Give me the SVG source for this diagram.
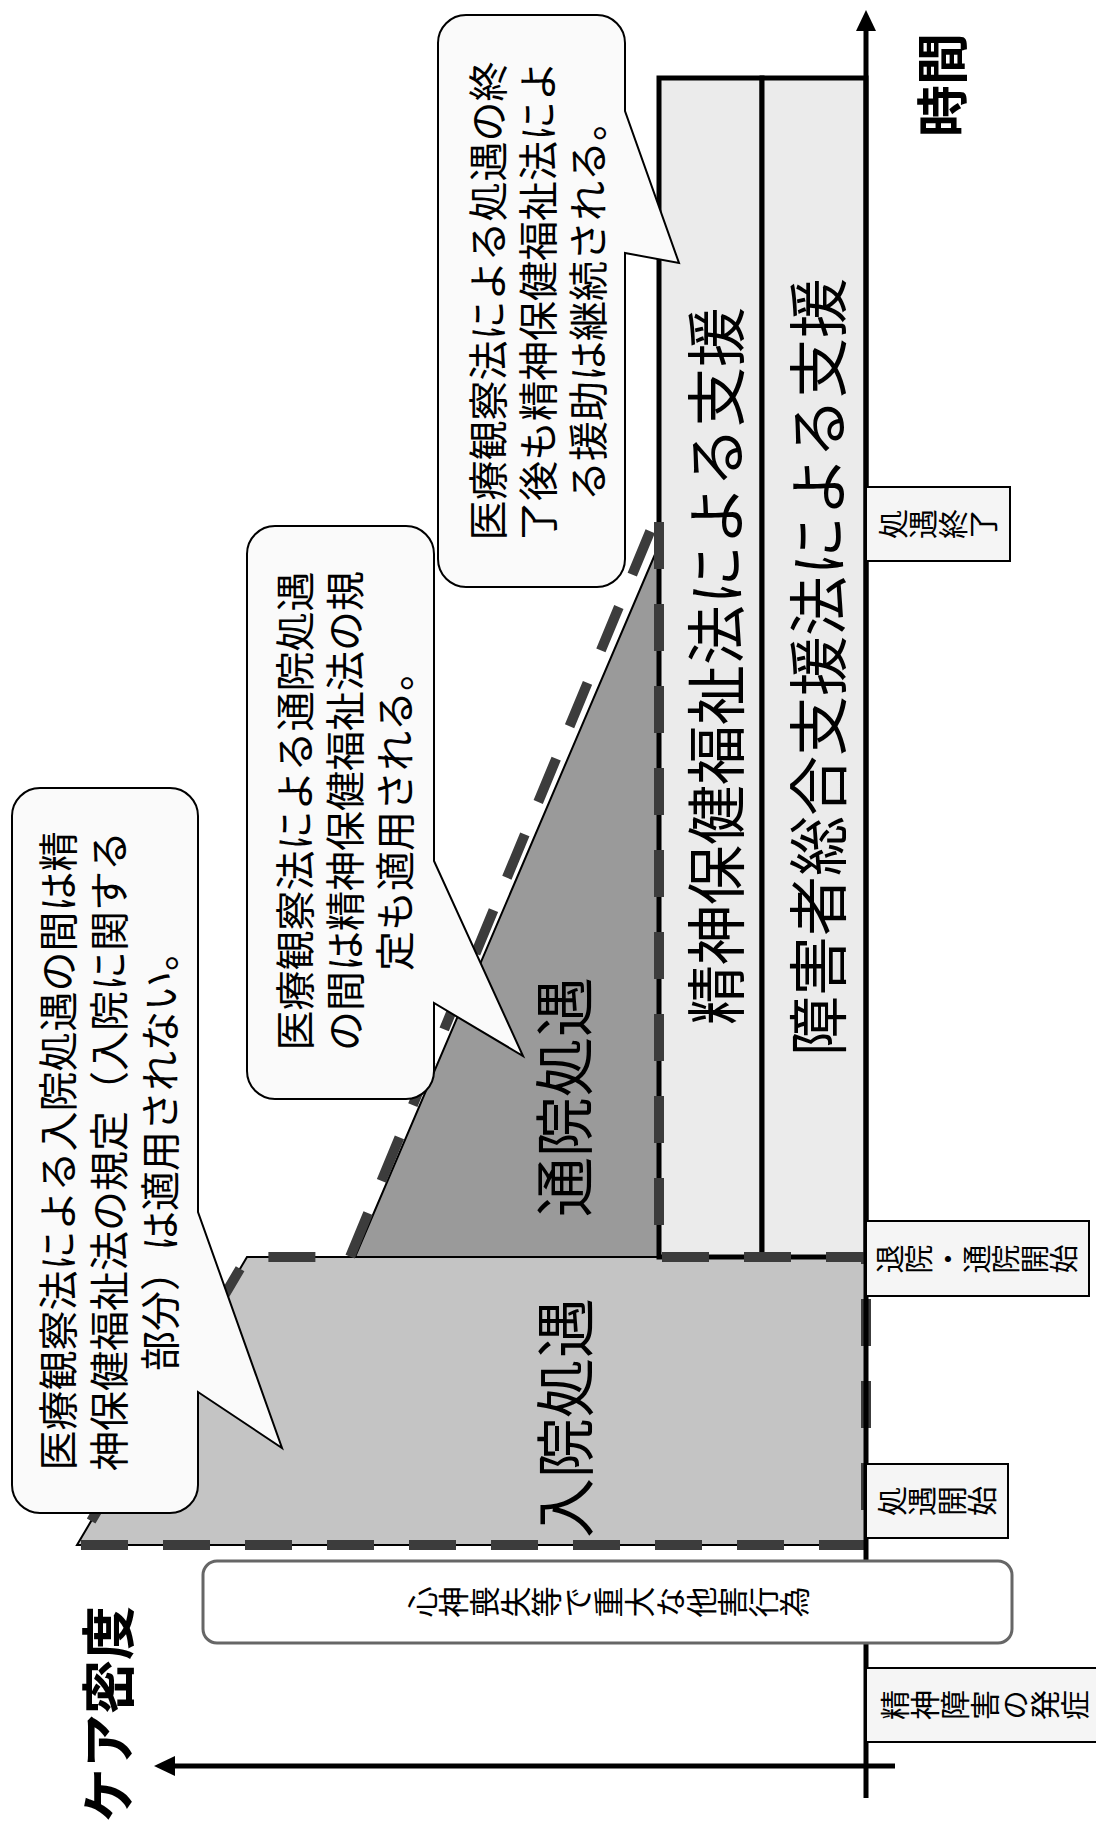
<svg xmlns="http://www.w3.org/2000/svg" width="1096" height="1830" viewBox="0 0 1096 1830">
<defs>
<style>
text{font-family:"Noto Sans CJK JP","Noto Sans CJK SC",sans-serif;fill:#000;}
.rt{text-anchor:middle;dominant-baseline:central;}
.bub{font-size:40px;}
.big{font-size:60px;}
.axl{font-size:54px;font-weight:bold;}
.vt{writing-mode:vertical-rl;text-anchor:middle;font-size:30px;}
.bubble{fill:#fafafa;stroke:#000;stroke-width:2;}
.lbl{fill:#f5f5f5;stroke:#000;stroke-width:2;}
.law{fill:#ebebeb;stroke:#000;stroke-width:5;}
</style>
</defs>

<g id="inpatient-area">
<polygon points="77,1545 866,1545 866,1257 247,1257" fill="#c4c4c4" stroke="#000" stroke-width="2"/>
</g>
<g id="outpatient-area">
<polygon points="659,1257 659,545 355,1257" fill="#9a9a9a" stroke="#000" stroke-width="2"/>
</g>

<g id="law-mental-health">
<rect class="law" x="659" y="78" width="103" height="1179"/>
</g>
<g id="law-disability">
<rect class="law" x="762" y="78" width="104" height="1179"/>
</g>

<g id="care-outline">
<path d="M77,1545 H866 V1257 H659 V510 L350,1257 H247 Z" fill="none" stroke="#3c3c3c" stroke-width="10" stroke-dasharray="47 35" stroke-dashoffset="-4"/>
</g>

<g id="connectors">
<line x1="866" y1="1798" x2="866" y2="28" stroke="#000" stroke-width="5"/>
<polygon points="866,10 856,31 876,31" fill="#000"/>
<line x1="895" y1="1766" x2="173" y2="1766" stroke="#000" stroke-width="5"/>
<polygon points="154,1766 175,1756 175,1776" fill="#000"/>
</g>

<g id="label-end">
<rect class="lbl" x="866" y="487" width="144" height="74"/>
<text class="vt" x="938" y="524" transform="rotate(-90 938 524)">処遇終了</text>
</g>
<g id="label-discharge">
<rect class="lbl" x="866" y="1221" width="223" height="75"/>
<text class="vt" x="977" y="1259" transform="rotate(-90 977 1259)" style="font-size:29px">退院・通院開始</text>
</g>
<g id="label-start">
<rect class="lbl" x="866" y="1464" width="142" height="74"/>
<text class="vt" x="937" y="1501" transform="rotate(-90 937 1501)">処遇開始</text>
</g>
<g id="label-onset">
<rect class="lbl" x="866" y="1668" width="236" height="74"/>
<text class="vt" x="985" y="1705" transform="rotate(-90 985 1705)">精神障害の発症</text>
</g>
<g id="act">
<rect x="203" y="1561" width="809" height="82" rx="14" fill="#fff" stroke="#666" stroke-width="3"/>
<text class="vt" x="608" y="1602" transform="rotate(-90 608 1602)" style="font-size:31px">心神喪失等で重大な他害行為</text>
</g>

<g id="bubble-inpatient">
<path class="bubble" d="M40,788 H170 A28,28 0 0 1 198,816 V1212 L282,1448 L198,1392 V1485 A28,28 0 0 1 170,1513 H40 A28,28 0 0 1 12,1485 V816 A28,28 0 0 1 40,788 Z"/>
<g class="rt bub">
<text class="rt bub" x="56" y="1151" transform="rotate(-90 56 1151)">医療観察法による入院処遇の間は精</text>
<text class="rt bub" x="107" y="1151" transform="rotate(-90 107 1151)">神保健福祉法の規定（入院に関する</text>
<text class="rt bub" x="158" y="1151" transform="rotate(-90 158 1151)">部分）は適用されない。</text>
</g>
</g>
<g id="bubble-outpatient">
<path class="bubble" d="M275,526 H406 A28,28 0 0 1 434,554 V861 L523,1056 L434,1003 V1071 A28,28 0 0 1 406,1099 H275 A28,28 0 0 1 247,1071 V554 A28,28 0 0 1 275,526 Z"/>
<text class="rt bub" x="293" y="811" transform="rotate(-90 293 811)">医療観察法による通院処遇</text>
<text class="rt bub" x="343" y="811" transform="rotate(-90 343 811)">の間は精神保健福祉法の規</text>
<text class="rt bub" x="393" y="811" transform="rotate(-90 393 811)">定も適用される。</text>
</g>
<g id="bubble-after">
<path class="bubble" d="M466,15 H597 A28,28 0 0 1 625,43 V111 L679,263 L625,253 V559 A28,28 0 0 1 597,587 H466 A28,28 0 0 1 438,559 V43 A28,28 0 0 1 466,15 Z"/>
<text class="rt bub" x="486" y="301" transform="rotate(-90 486 301)">医療観察法による処遇の終</text>
<text class="rt bub" x="536" y="301" transform="rotate(-90 536 301)">了後も精神保健福祉法によ</text>
<text class="rt bub" x="586" y="301" transform="rotate(-90 586 301)">る援助は継続される。</text>
</g>

<g id="labels-big">
<text class="rt big" x="561" y="1418" transform="rotate(-90 561 1418)">入院処遇</text>
<text class="rt big" x="560" y="1097" transform="rotate(-90 560 1097)">通院処遇</text>
<text class="rt big" x="712" y="666" transform="rotate(-90 712 666)">精神保健福祉法による支援</text>
<text class="rt big" x="814" y="667" transform="rotate(-90 814 667)">障害者総合支援法による支援</text>
</g>

<g id="axis-labels">
<text class="rt axl" x="939" y="85" transform="rotate(-90 939 85)" style="font-size:52px">時間</text>
<text class="rt axl" x="105" y="1714" transform="rotate(-90 105 1714)">ケア密度</text>
</g>
</svg>
